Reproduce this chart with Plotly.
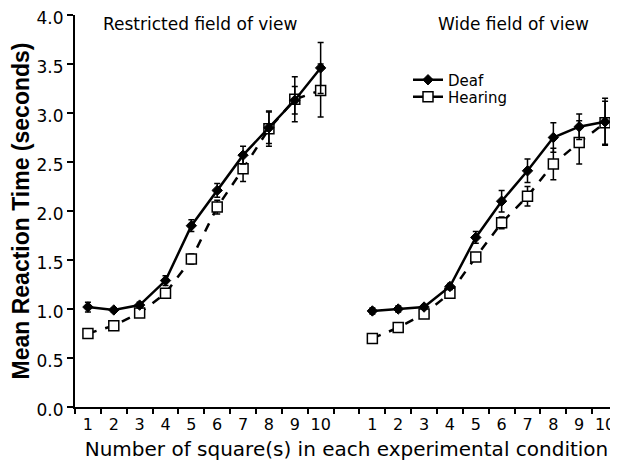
import plotly.graph_objects as go

conditions = [1, 2, 3, 4, 5, 6, 7, 8, 9, 10]
tick_labels = ["1", "2", "3", "4", "5", "6", "7", "8", "9", "10"]

# Restricted field of view
restricted_deaf = [1.02, 0.99, 1.04, 1.29, 1.85, 2.21, 2.57, 2.85, 3.13, 3.46]
restricted_deaf_err = [0.05, 0.02, 0.03, 0.05, 0.06, 0.07, 0.09, 0.16, 0.14, 0.26]
restricted_hearing = [0.75, 0.83, 0.96, 1.16, 1.51, 2.04, 2.43, 2.84, 3.14, 3.23]
restricted_hearing_err = [0.02, 0.03, 0.03, 0.04, 0.05, 0.07, 0.13, 0.18, 0.23, 0.27]

# Wide field of view
wide_deaf = [0.98, 1.00, 1.02, 1.23, 1.73, 2.10, 2.41, 2.75, 2.86, 2.91]
wide_deaf_err = [0.03, 0.03, 0.02, 0.03, 0.06, 0.11, 0.12, 0.15, 0.13, 0.24]
wide_hearing = [0.70, 0.81, 0.95, 1.16, 1.53, 1.88, 2.15, 2.48, 2.70, 2.90]
wide_hearing_err = [0.02, 0.02, 0.03, 0.03, 0.04, 0.06, 0.10, 0.16, 0.22, 0.22]

panel_titles = ["Restricted field of view", "Wide field of view"]

FONT = "DejaVu Sans, sans-serif"
BOLD_FONT = "Liberation Sans, Arial, sans-serif"
OFFSET = 11  # second panel placed after a one-slot gap on the shared axis

left_x = conditions
right_x = [c + OFFSET for c in conditions]

# the page body adds an 8px margin, so the figure is sized to fit the window
W, H = 610, 459
L, R, T, B = 67, 0, 7, 60
PW, PH = W - L - R, H - T - B

def px(x):
    return (x - L) / PW

def py(y):
    return 1 - (y - T) / PH

STYLE = {
    "Deaf": dict(
        line=dict(color="black", width=2.5, dash="solid"),
        marker=dict(symbol="diamond", size=8, color="black", line=dict(color="black", width=1)),
    ),
    "Hearing": dict(
        line=dict(color="black", width=2.5, dash="dash"),
        marker=dict(symbol="square", size=10, color="white", line=dict(color="black", width=1.5)),
    ),
}

fig = go.Figure()

def add_series(x, y, err, kind):
    fig.add_trace(go.Scatter(
        x=x, y=y, mode="lines+markers", name=kind, legendgroup=kind, showlegend=False,
        line=STYLE[kind]["line"], marker=STYLE[kind]["marker"],
        error_y=dict(type="data", array=err, visible=True, color="black", thickness=1.5, width=3),
    ))

add_series(left_x, restricted_hearing, restricted_hearing_err, "Hearing")
add_series(left_x, restricted_deaf, restricted_deaf_err, "Deaf")
add_series(right_x, wide_hearing, wide_hearing_err, "Hearing")
add_series(right_x, wide_deaf, wide_deaf_err, "Deaf")

# legend entries (solid lines in the key, as in the reference)
for kind, leg in [("Deaf", "legend"), ("Hearing", "legend2")]:
    fig.add_trace(go.Scatter(
        x=[None], y=[None], mode="lines+markers", name=kind, legendgroup=kind, legend=leg,
        line=dict(color="black", width=2.5, dash="solid"), marker=STYLE[kind]["marker"],
    ))

tickvals = left_x + right_x
ticktext = tick_labels + tick_labels

legend_common = dict(xanchor="left", yanchor="middle", font=dict(size=15, family=FONT),
                     bgcolor="rgba(0,0,0,0)", itemwidth=30)

fig.update_layout(
    width=W, height=H,
    margin=dict(l=L, r=R, t=T, b=B),
    paper_bgcolor="white", plot_bgcolor="white",
    font=dict(family=FONT, color="black", size=16),
    showlegend=True,
    legend=dict(x=px(400), y=py(72), **legend_common),
    legend2=dict(x=px(400), y=py(89), **legend_common),
    xaxis=dict(
        range=[0.5, 21.5], showgrid=False, zeroline=False, automargin=False,
        showline=True, linecolor="black", linewidth=2,
        tickmode="array", tickvals=tickvals, ticktext=ticktext,
        ticks="outside", ticklen=2, tickcolor="rgba(0,0,0,0)",
        tickfont=dict(size=16, family=FONT),
        minor=dict(tickmode="linear", tick0=0.5, dtick=1, ticks="outside",
                   ticklen=5, tickwidth=2, tickcolor="black", showgrid=False),
        title=dict(text="Number of square(s) in each experimental condition",
                   font=dict(size=20, family=FONT), standoff=9),
    ),
    yaxis=dict(
        range=[0, 4.0], showgrid=False, zeroline=False, automargin=False,
        showline=True, linecolor="black", linewidth=2,
        tickmode="linear", tick0=0, dtick=0.5, tickformat=".1f",
        ticks="outside", ticklen=6, tickwidth=2, tickcolor="black",
        ticklabeloverflow="allow", ticklabelshift=3,
        tickfont=dict(size=17, family=FONT),
        title=dict(text="<b>Mean Reaction Time (seconds)</b>",
                   font=dict(size=23, family=BOLD_FONT), standoff=3),
    ),
)

for title, cx in zip(panel_titles, [192, 505]):
    fig.add_annotation(
        text=title, xref="paper", yref="paper",
        x=px(cx), y=py(16),
        showarrow=False, xanchor="center", yanchor="middle",
        font=dict(size=17, family=FONT, color="black"),
    )

fig.write_html("out.html")
